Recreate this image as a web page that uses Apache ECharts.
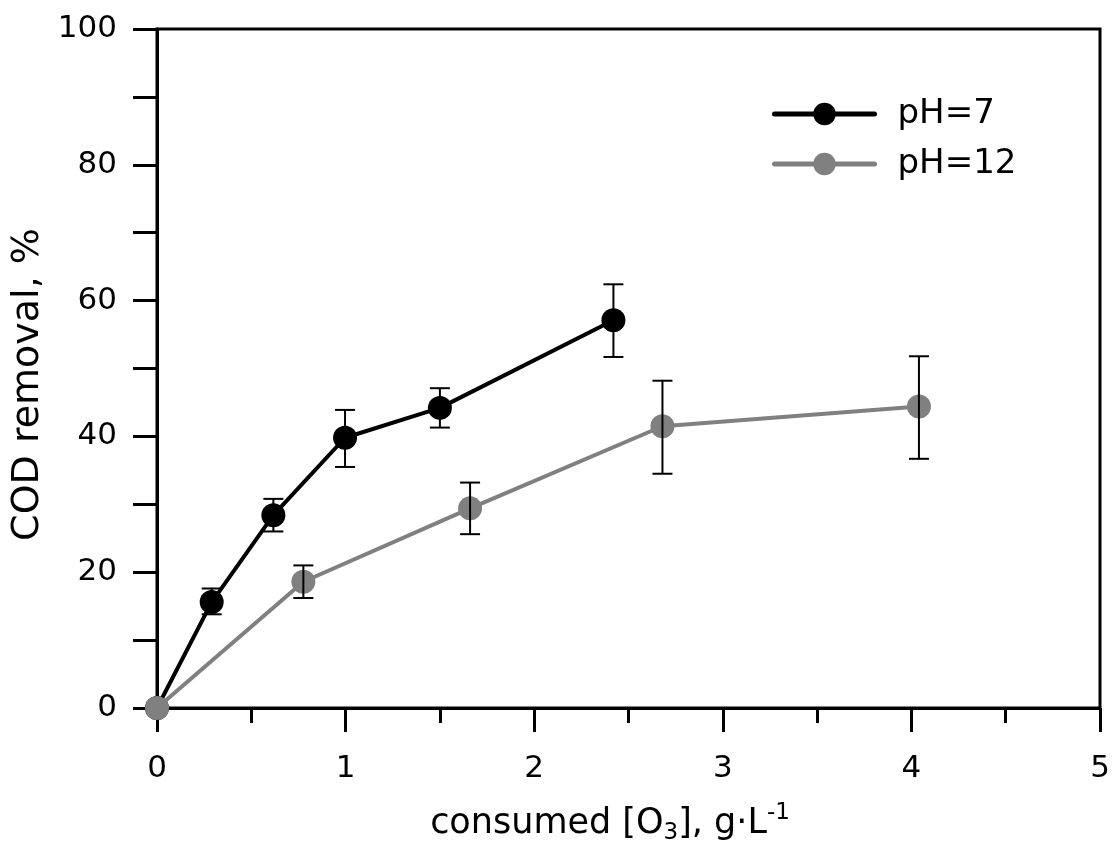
<!DOCTYPE html>
<html>
<head>
<meta charset="utf-8">
<script src="https://cdn.jsdelivr.net/npm/echarts@6/dist/echarts.min.js"></script>
<style>
  html, body { margin: 0; padding: 0; background: #fff; }
  #main { width: 1116px; height: 856px; }
</style>
</head>
<body>
<div id="main"></div>
<script>
  // pH=7
  var ph7X = [0, 0.29, 0.617, 0.997, 1.50, 2.42];
  var ph7Y = [0, 15.6, 28.4, 39.8, 44.2, 57.1];
  var ph7Lo = [0, 13.8, 26.0, 35.5, 41.3, 51.7];
  var ph7Hi = [0, 17.6, 30.8, 43.9, 47.1, 62.4];
  // pH=12
  var ph12X = [0, 0.776, 1.66, 2.68, 4.04];
  var ph12Y = [0, 18.6, 29.4, 41.5, 44.4];
  var ph12Lo = [0, 16.2, 25.6, 34.5, 36.7];
  var ph12Hi = [0, 21.0, 33.2, 48.2, 51.8];

  var seriesNames = ['pH=7', 'pH=12'];
  var xTicks = [0, 1, 2, 3, 4, 5];
  var yTicks = [0, 20, 40, 60, 80, 100];

  function pairs (xs, ys) {
    return xs.map(function (x, i) { return [x, ys[i]]; });
  }
  function errRows (xs, lo, hi) {
    var out = [];
    xs.forEach(function (x, i) {
      if (hi[i] > lo[i]) out.push([x, lo[i], hi[i]]);
    });
    return out;
  }

  function renderErr (params, api) {
    var top = api.coord([api.value(0), api.value(2)]);
    var bot = api.coord([api.value(0), api.value(1)]);
    var half = 10;
    var st = { stroke: '#000', lineWidth: 2 };
    return {
      type: 'group',
      children: [
        { type: 'line', shape: { x1: top[0], y1: top[1], x2: bot[0], y2: bot[1] }, style: st },
        { type: 'line', shape: { x1: top[0] - half, y1: top[1], x2: top[0] + half, y2: top[1] }, style: st },
        { type: 'line', shape: { x1: bot[0] - half, y1: bot[1], x2: bot[0] + half, y2: bot[1] }, style: st }
      ]
    };
  }

  var font = 'DejaVu Sans, Liberation Sans, sans-serif';
  // one legend box per entry, placed by hand
  function legendRow (name, top) {
    return {
      data: [name],
      left: 772, top: top, padding: 0,
      itemWidth: 100, itemHeight: 28,
      lineStyle: { width: 5, cap: 'round' },
      textStyle: { fontSize: 34, color: '#000', fontFamily: font, padding: [0, 0, 0, 18] }
    };
  }

  var chart = echarts.init(document.getElementById('main'));
  var option = {
    animation: false,
    backgroundColor: '#fff',
    textStyle: { fontFamily: font },
    grid: {
      left: 157, right: 16, top: 29, bottom: 148,
      show: true, borderColor: '#000', borderWidth: 3, backgroundColor: 'transparent'
    },
    legend: [legendRow(seriesNames[0], 97), legendRow(seriesNames[1], 147)],
    xAxis: {
      type: 'value',
      min: 0, max: 5, interval: 1,
      name: '{a|consumed [O}{sub|3}{a|], g·L}{sup|-1}',
      nameLocation: 'middle',
      nameGap: 94,
      nameTextStyle: {
        padding: [0, 37, 0, 0],
        rich: {
          a: { fontSize: 35, color: '#000', fontFamily: font },
          sub: { fontSize: 23, color: '#000', fontFamily: font, verticalAlign: 'bottom', padding: [20, 0, 0, 0] },
          sup: { fontSize: 23, color: '#000', fontFamily: font, verticalAlign: 'top', padding: [0, 0, 20, 0] }
        }
      },
      axisLine: { onZero: false, lineStyle: { color: '#000', width: 3 } },
      axisTick: { inside: false, length: 24, lineStyle: { color: '#000', width: 3 } },
      minorTick: { show: true, splitNumber: 2, length: 15, lineStyle: { color: '#000', width: 3 } },
      axisLabel: { fontSize: 31, color: '#000', margin: 45, fontFamily: font,
        formatter: function (v) { return xTicks.indexOf(v) >= 0 ? String(v) : ''; } },
      splitLine: { show: false }
    },
    yAxis: {
      type: 'value',
      min: 0, max: 100, interval: 20,
      name: 'COD removal, %',
      nameLocation: 'middle',
      nameGap: 105,
      nameTextStyle: { fontSize: 38, color: '#000', fontFamily: font, padding: [0, 32, 0, 0] },
      axisLine: { onZero: false, lineStyle: { color: '#000', width: 3 } },
      axisTick: { inside: false, length: 24, lineStyle: { color: '#000', width: 3 } },
      minorTick: { show: true, splitNumber: 2, length: 24, lineStyle: { color: '#000', width: 3 } },
      axisLabel: { fontSize: 31, color: '#000', margin: 40, fontFamily: font,
        formatter: function (v) { return yTicks.indexOf(v) >= 0 ? String(v) : ''; } },
      splitLine: { show: false }
    },
    series: [
      {
        name: 'pH=7', type: 'line',
        data: pairs(ph7X, ph7Y),
        symbol: 'circle', symbolSize: 24,
        lineStyle: { color: '#000', width: 4 },
        itemStyle: { color: '#000' },
        z: 3
      },
      {
        name: 'pH=12', type: 'line',
        data: pairs(ph12X, ph12Y),
        symbol: 'circle', symbolSize: 24,
        lineStyle: { color: '#808080', width: 4 },
        itemStyle: { color: '#808080' },
        z: 4
      },
      {
        name: 'err7', type: 'custom',
        renderItem: renderErr,
        data: errRows(ph7X, ph7Lo, ph7Hi),
        z: 5
      },
      {
        name: 'err12', type: 'custom',
        renderItem: renderErr,
        data: errRows(ph12X, ph12Lo, ph12Hi),
        z: 5
      }
    ]
  };
  chart.setOption(option);
</script>
</body>
</html>
